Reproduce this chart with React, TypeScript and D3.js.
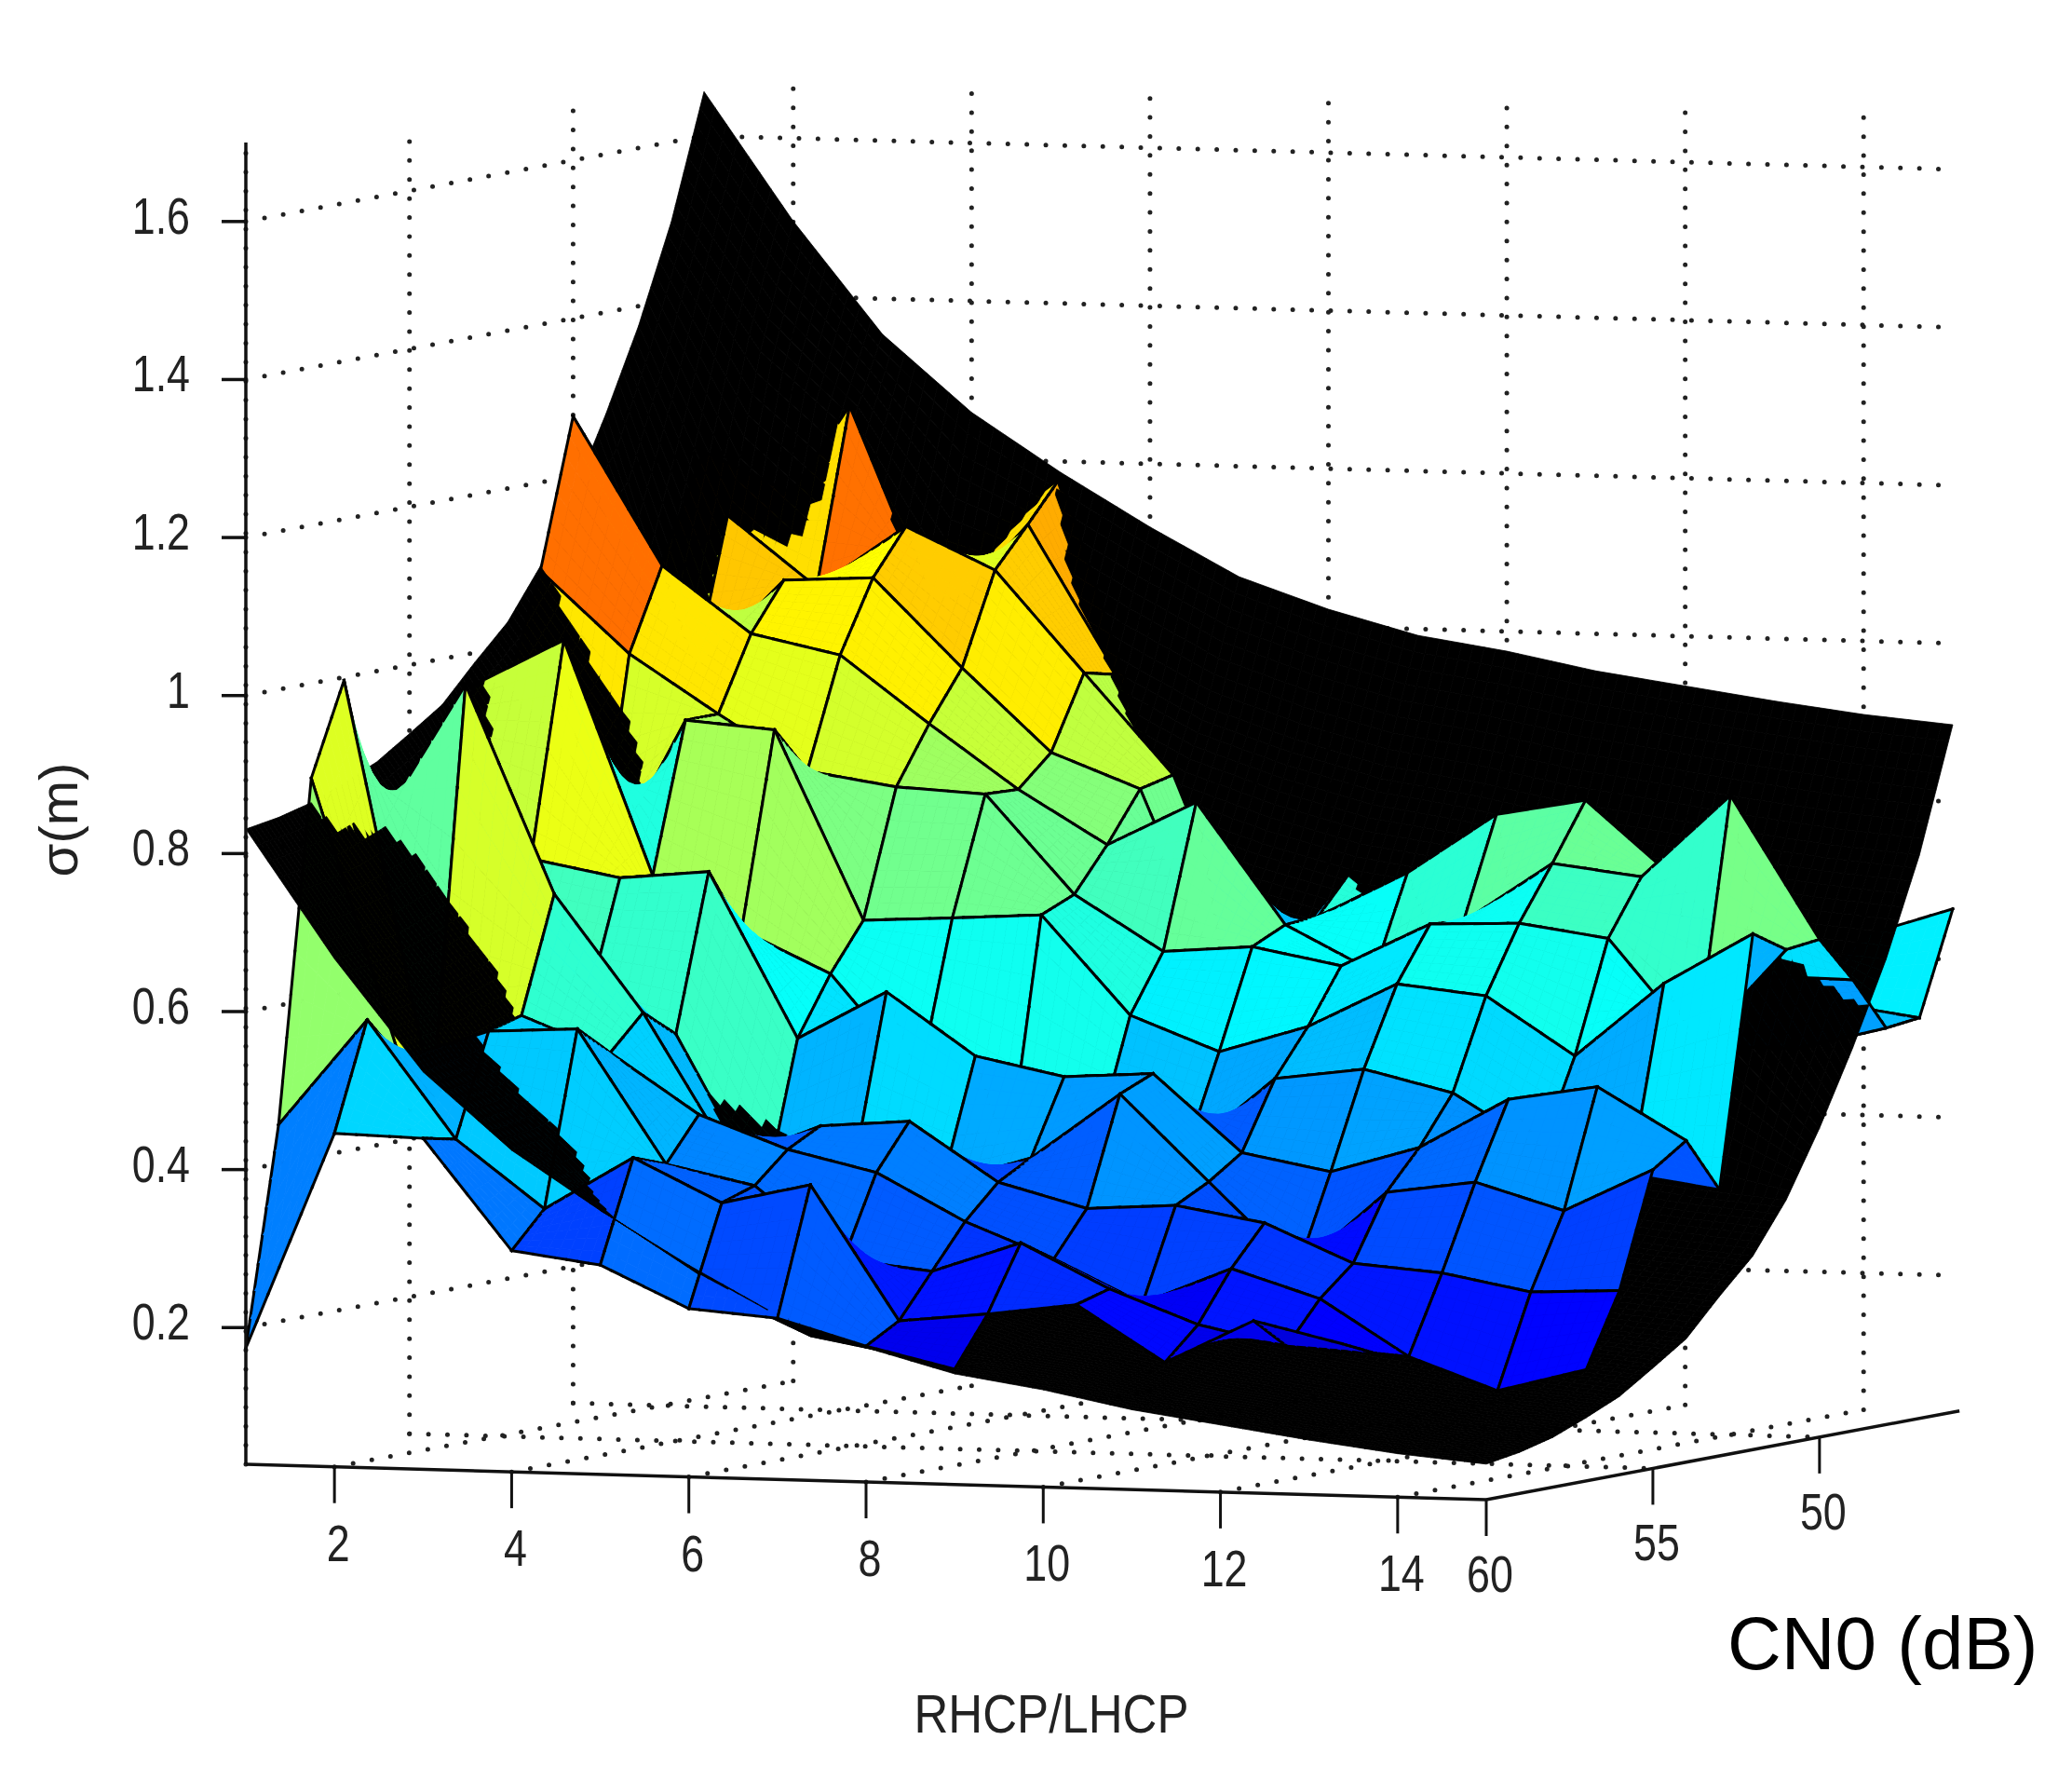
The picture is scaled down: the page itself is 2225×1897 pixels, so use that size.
import React, { useEffect, useRef } from 'react';
import * as d3 from 'd3';

const WIDTH = 2225;
const HEIGHT = 1897;

const rhcpLhcp = [1, 2, 3, 4, 5, 6, 7, 8, 9, 10, 11, 12, 13, 14, 15];
const cn0 = [60, 59, 58, 57, 56, 55, 54, 53, 52, 51, 50, 49, 48, 47, 46];
const rhcpTicks = [2, 4, 6, 8, 10, 12, 14];
const cn0Ticks = [60, 55, 50];
const sigmaTicks = [1.6, 1.4, 1.2, 1, 0.8, 0.6, 0.4, 0.2];

// measured sigma, one list per CN0 value (null = no data in that bin)
const sigma60 = [0.174, 0.449, 0.446, 0.307, 0.292, 0.24, 0.231, 0.199, 0.173, null, null, null, null, null, null];
const sigma59 = [0.449, 0.585, 0.437, 0.352, 0.42, 0.366, 0.392, 0.223, 0.235, 0.25, 0.18, 0.236, 0.21, null, null];
const sigma58 = [0.88, 0.528, 0.566, 0.572, 0.404, 0.38, 0.29, 0.278, 0.317, 0.262, 0.22, 0.196, 0.19, null, null];
const sigma57 = [0.996, 0.472, 0.578, 0.534, 0.459, 0.418, 0.392, 0.333, 0.289, 0.236, 0.283, 0.248, 0.178, 0.138, 0.168];
const sigma56 = [0.8, 0.986, 0.724, 0.577, 0.394, 0.44, 0.449, 0.375, 0.345, 0.352, 0.333, 0.285, 0.276, 0.255, 0.26];
const sigma55 = [0.8, 0.6, 0.575, 0.542, 0.34, 0.377, 0.363, 0.398, 0.482, 0.374, 0.267, 0.367, 0.383, 0.35, 0.405];
const sigma54 = [0.85, 0.75, 0.729, 0.74, 0.532, 0.594, 0.516, 0.493, 0.5, 0.403, 0.382, 0.416, 0.48, 0.499, 0.434];
const sigma53 = [0.96, 1.019, 0.724, 0.658, 0.606, 0.476, 0.375, 0.407, 0.393, 0.489, 0.504, 0.477, 0.41, 0.38, 0.364];
const sigma52 = [0.95, 0.698, 0.913, 0.904, 0.666, 0.672, 0.679, 0.555, 0.512, 0.547, 0.604, 0.592, 0.519, 0.614, 0.68];
const sigma51 = [1.088, 0.986, 0.913, 0.844, 0.827, 0.821, 0.697, 0.628, 0.637, 0.616, 0.672, 0.676, 0.66, 0.528, 0.652];
const sigma50 = [1.276, 1.09, 1.007, 0.983, 0.899, 0.819, 0.752, 0.809, 0.657, 0.6, 0.667, 0.744, 0.73, 0.836, 0.657];
const sigma49 = [1.0, 0.95, 1.067, 1.073, 0.962, 0.858, 0.815, 0.55, 0.66, 0.718, 0.795, 0.816, 0.72, 0.6, 0.598];
const sigma48 = [1.0, 1.138, 1.05, 1.13, 1.078, 0.951, 0.825, 0.55, 0.71, 0.6, 0.55, 0.55, 0.5, 0.5, 0.529];
const sigma47 = [1.1, 1.1, 1.272, 1.0, 1.128, 0.941, 0.7, 0.55, 0.6, 0.6, 0.55, 0.55, 0.5, 0.55, 0.534];
const sigma46 = [1.2, 1.15, 1.1, 1.1, 1.18, 0.83, 0.7, 0.55, 0.6, 0.6, 0.55, 0.55, 0.5, 0.627, 0.664];
const measured = [sigma60, sigma59, sigma58, sigma57, sigma56, sigma55, sigma54, sigma53, sigma52, sigma51, sigma50, sigma49, sigma48, sigma47, sigma46];

// black model surface
const model60 = [0.831, 0.67, 0.53, 0.434, 0.361, 0.295, 0.235, 0.197, 0.167, 0.15, 0.128, 0.112, 0.096, 0.082, 0.072];
const model59 = [0.838, 0.677, 0.537, 0.441, 0.33, 0.25, 0.2, 0.18, 0.174, 0.157, 0.135, 0.119, 0.103, 0.089, 0.079];
const model58 = [0.849, 0.688, 0.548, 0.452, 0.36, 0.3, 0.26, 0.22, 0.185, 0.168, 0.146, 0.13, 0.114, 0.1, 0.09];
const model57 = [0.866, 0.705, 0.565, 0.469, 0.396, 0.33, 0.27, 0.232, 0.202, 0.185, 0.163, 0.147, 0.131, 0.117, 0.107];
const model56 = [0.885, 0.724, 0.584, 0.488, 0.39, 0.349, 0.289, 0.251, 0.221, 0.204, 0.182, 0.166, 0.15, 0.136, 0.126];
const model55 = [0.913, 0.752, 0.612, 0.516, 0.39, 0.35, 0.317, 0.279, 0.249, 0.232, 0.21, 0.194, 0.178, 0.164, 0.154];
const model54 = [0.942, 0.72, 0.641, 0.545, 0.472, 0.406, 0.346, 0.308, 0.278, 0.261, 0.239, 0.223, 0.207, 0.193, 0.183];
const model53 = [0.988, 0.827, 0.687, 0.591, 0.518, 0.452, 0.392, 0.354, 0.324, 0.307, 0.285, 0.269, 0.253, 0.239, 0.229];
const model52 = [1.031, 0.87, 0.73, 0.634, 0.561, 0.495, 0.435, 0.397, 0.367, 0.35, 0.328, 0.312, 0.296, 0.282, 0.272];
const model51 = [1.094, 0.933, 0.793, 0.697, 0.624, 0.558, 0.498, 0.46, 0.43, 0.413, 0.391, 0.375, 0.359, 0.345, 0.335];
const model50 = [1.177, 1.016, 0.876, 0.78, 0.707, 0.641, 0.581, 0.543, 0.513, 0.496, 0.474, 0.458, 0.442, 0.55, 0.418];
const model49 = [1.271, 0.93, 0.97, 0.874, 0.801, 0.735, 0.675, 0.637, 0.607, 0.59, 0.568, 0.552, 0.536, 0.72, 0.512];
const model48 = [1.375, 1.13, 1.03, 0.978, 0.905, 0.839, 0.779, 0.741, 0.711, 0.694, 0.672, 0.656, 0.64, 0.626, 0.616];
const model47 = [1.499, 1.338, 1.24, 1.05, 1.029, 0.963, 0.903, 0.865, 0.835, 0.818, 0.796, 0.78, 0.764, 0.75, 0.74];
const model46 = [1.656, 1.495, 1.355, 1.259, 1.186, 1.12, 1.06, 1.022, 0.992, 0.975, 0.953, 0.937, 0.921, 0.907, 0.897];
const model = [model60, model59, model58, model57, model56, model55, model54, model53, model52, model51, model50, model49, model48, model47, model46];

// floor corners of the 3D box, in page pixels
const frontLeft = [264, 1572];
const frontRight = [1596, 1610];
const backRight = [2097, 1516];
const backLeft = [756, 1480];

const xScale = d3.scaleLinear().domain([1, 15]).range([0, 1]);
const yScale = d3.scaleLinear().domain([60, 46]).range([0, 1]);
const zScale = d3.scaleLinear().domain([0.027, 1.7]).range([0, -1419]);

// MATLAB jet
const jet = d3.scaleLinear<string>()
  .domain([0, 0.125, 0.375, 0.625, 0.875, 1].map(t => 0.05 + t * 1.6))
  .range(['#000080', '#0000ff', '#00ffff', '#ffff00', '#ff0000', '#800000']);

const project = (x: number, y: number, z = 0.027): [number, number] => {
  const u = xScale(x);
  const v = yScale(y);
  const along = (d: number) =>
    (1 - v) * ((1 - u) * frontLeft[d] + u * frontRight[d]) +
    v * ((1 - u) * backLeft[d] + u * backRight[d]);
  return [along(0), along(1) + zScale(z)];
};

const bilinear = (g: any[][], k: number, i: number, s: number, t: number) =>
  (1 - s) * ((1 - t) * g[k][i] + t * g[k][i + 1]) + s * ((1 - t) * g[k + 1][i] + t * g[k + 1][i + 1]);

const App = () => {
  const svgRef = useRef<SVGSVGElement | null>(null);

  useEffect(() => {
    const svg = d3.select(svgRef.current);
    svg.selectAll('*').remove();
    svg.append('rect').attr('width', WIDTH).attr('height', HEIGHT).attr('fill', '#fff');

    const dotted = (pts: [number, number][]) => {
      svg.append('path')
        .attr('d', d3.line()(pts))
        .attr('fill', 'none')
        .attr('stroke', '#222')
        .attr('stroke-width', 5)
        .attr('stroke-linecap', 'round')
        .attr('stroke-dasharray', '0 20.4');
    };

    // grid on the walls and the floor
    const zTop = 1.68;
    sigmaTicks.forEach(z => {
      dotted([project(1, 60, z), project(1, 46, z)]);
      dotted([project(1, 46, z), project(15, 46, z)]);
    });
    cn0Ticks.filter(c => c !== 60).forEach(c => {
      dotted([project(1, c), project(1, c, zTop)]);
      dotted([project(1, c), project(15, c)]);
    });
    rhcpTicks.forEach(r => {
      dotted([project(r, 46), project(r, 46, zTop)]);
      dotted([project(r, 60), project(r, 46)]);
    });
    dotted([project(1, 60), project(1, 60, 1.7)]);

    // surfaces, painted back to front, lower one first in each small patch
    const steps = 8;
    const line = d3.line();
    const layer = svg.append('g');
    const patch = (corners: [number, number][], colour: string) => {
      layer.append('path')
        .attr('d', line(corners) + 'Z')
        .attr('fill', colour)
        .attr('stroke', colour)
        .attr('stroke-width', 0.8);
    };
    const edge = (a: [number, number], b: [number, number]) => {
      layer.append('path')
        .attr('d', line([a, b]))
        .attr('fill', 'none')
        .attr('stroke', '#000')
        .attr('stroke-width', 3)
        .attr('stroke-linecap', 'square');
    };

    for (let k = cn0.length - 2; k >= 0; k--) {
      for (let sk = steps - 1; sk >= 0; sk--) {
        for (let i = 0; i < rhcpLhcp.length - 1; i++) {
          const hasData = [measured[k][i], measured[k][i + 1], measured[k + 1][i], measured[k + 1][i + 1]]
            .every(v => v !== null);
          const colour = hasData ? jet(measured[k + 1][i] as number) : '#000';
          for (let si = 0; si < steps; si++) {
            const s0 = sk / steps;
            const s1 = (sk + 1) / steps;
            const t0 = si / steps;
            const t1 = (si + 1) / steps;
            const xAt = (t: number) => rhcpLhcp[i] + t;
            const yAt = (s: number) => cn0[k] - s;
            const corner = (g: any[][], s: number, t: number) =>
              project(xAt(t), yAt(s), bilinear(g, k, i, s, t));

            const drawMeasured = () => {
              const a = corner(measured, s0, t0);
              const b = corner(measured, s0, t1);
              const c = corner(measured, s1, t1);
              const d = corner(measured, s1, t0);
              patch([a, b, c, d], colour);
              if (sk === 0) edge(a, b);
              if (sk === steps - 1) edge(d, c);
              if (si === 0) edge(a, d);
              if (si === steps - 1) edge(b, c);
            };
            const drawModel = () => {
              patch([
                corner(model, s0, t0),
                corner(model, s0, t1),
                corner(model, s1, t1),
                corner(model, s1, t0),
              ], '#000');
            };

            const sm = (s0 + s1) / 2;
            const tm = (t0 + t1) / 2;
            if (!hasData) {
              drawModel();
            } else if (bilinear(measured, k, i, sm, tm) > bilinear(model, k, i, sm, tm)) {
              drawModel();
              drawMeasured();
            } else {
              drawMeasured();
              drawModel();
            }
          }
        }
      }
    }

    // axes
    const axisLine = (pts: [number, number][], w = 3.5) => {
      svg.append('path')
        .attr('d', d3.line()(pts))
        .attr('fill', 'none')
        .attr('stroke', '#111')
        .attr('stroke-width', w);
    };
    const tickLabel = (txt: string, x: number, y: number, anchor = 'middle') => {
      svg.append('text')
        .attr('transform', `translate(${x},${y}) scale(0.8,1)`)
        .attr('text-anchor', anchor)
        .attr('font-family', '"Liberation Sans", Arial, sans-serif')
        .attr('font-size', 56)
        .attr('fill', '#222')
        .text(txt);
    };

    axisLine([project(1, 60), project(1, 60, 1.7)]);
    axisLine([project(1, 60), project(15, 60)]);
    axisLine([project(15, 60), project(15, 45.8)]);

    sigmaTicks.forEach(z => {
      const [px, py] = project(1, 60, z);
      axisLine([[px - 26, py], [px, py]]);
      tickLabel(String(z), px - 60, py + 13, 'end');
    });
    rhcpTicks.forEach(r => {
      const [px, py] = project(r, 60);
      axisLine([[px, py], [px, py + 39]], 3);
      tickLabel(String(r), px + 4, py + 101);
    });
    cn0Ticks.forEach(c => {
      const [px, py] = project(15, c);
      axisLine([[px, py], [px, py + 39]], 3);
      tickLabel(String(c), px + 4, py + 99);
    });

    svg.append('text')
      .attr('x', 1129)
      .attr('y', 1860)
      .attr('text-anchor', 'middle')
      .attr('font-family', '"Liberation Sans", Arial, sans-serif')
      .attr('font-size', 58)
      .attr('textLength', 295)
      .attr('lengthAdjust', 'spacingAndGlyphs')
      .attr('fill', '#222')
      .text('RHCP/LHCP');

    svg.append('text')
      .attr('transform', 'translate(83,880) rotate(-90)')
      .attr('text-anchor', 'middle')
      .attr('font-family', '"Liberation Sans", Arial, sans-serif')
      .attr('font-size', 58)
      .attr('fill', '#222')
      .text('σ(m)');

    svg.append('text')
      .attr('x', 1855)
      .attr('y', 1792)
      .attr('font-family', '"Liberation Sans", Arial, sans-serif')
      .attr('font-size', 80)
      .attr('fill', '#000')
      .text('CN0 (dB)');
  }, []);

  return (
    <svg
      ref={svgRef}
      width={WIDTH}
      height={HEIGHT}
      style={{ position: 'absolute', left: 0, top: 0, display: 'block' }}
    />
  );
};

export default App;
